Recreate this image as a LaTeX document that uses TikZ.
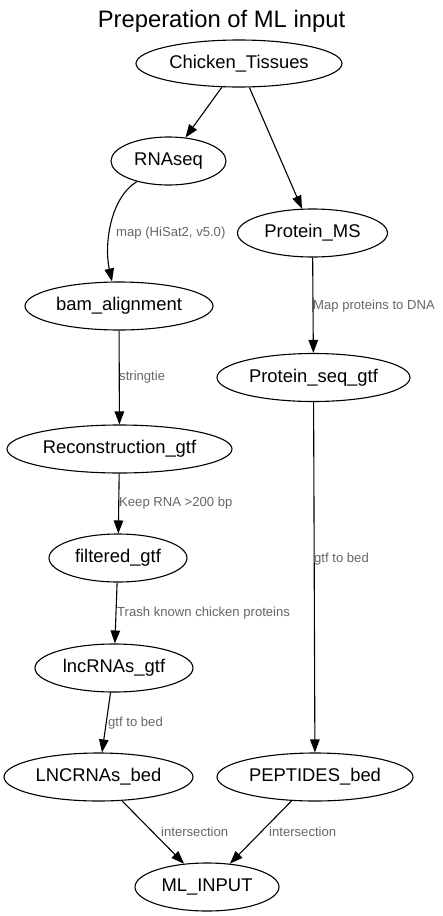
\documentclass[tikz,border=0pt]{standalone}
\usepackage{fontspec}
\setmainfont{Liberation Sans}
\usetikzlibrary{shapes.geometric,arrows.meta}
\definecolor{labelgray}{HTML}{666666}
\tikzset{
  nd/.style={draw, ellipse, line width=1.1pt, inner sep=0pt, font=\fontsize{18.4}{20}\selectfont},
  edge/.style={draw, line width=1.1pt, -{Triangle[length=13pt,width=9.5pt]}},
  elabel/.style={anchor=west, inner sep=0pt, text=labelgray, font=\fontsize{13.1}{15}\selectfont},
}
\begin{document}
\begin{tikzpicture}[x=1pt,y=-1pt]
\useasboundingbox (0,0) rectangle (443,916);
\node[inner sep=0pt, font=\fontsize{23.8}{26}\selectfont] (title) at (221.5,21) {Preperation of ML input};

\node[nd, minimum width=206pt, minimum height=47pt] (ct) at (239,63.5) {Chicken\_Tissues};
\node[nd, minimum width=115pt, minimum height=48pt] (rna) at (168.5,161) {RNAseq};
\node[nd, minimum width=150pt, minimum height=48pt] (pms) at (312.5,233) {Protein\_MS};
\node[nd, minimum width=188pt, minimum height=48pt] (bam) at (119,306) {bam\_alignment};
\node[nd, minimum width=193pt, minimum height=48pt] (psg) at (313.5,377.5) {Protein\_seq\_gtf};
\node[nd, minimum width=225pt, minimum height=48pt] (rec) at (119.5,449) {Reconstruction\_gtf};
\node[nd, minimum width=138pt, minimum height=48pt] (fil) at (118,558) {filtered\_gtf};
\node[nd, minimum width=158pt, minimum height=48pt] (lnc) at (114,668) {lncRNAs\_gtf};
\node[nd, minimum width=189pt, minimum height=48pt] (lbed) at (98.5,777) {LNCRNAs\_bed};
\node[nd, minimum width=196pt, minimum height=48pt] (pbed) at (315,777) {PEPTIDES\_bed};
\node[nd, minimum width=144pt, minimum height=48pt] (ml) at (207,887) {ML\_INPUT};

\draw[edge] (ct) -- (rna);
\draw[edge] (ct) -- (pms);
\draw[edge] (rna.213.7) .. controls (110,198) and (104,245) .. (bam.106);
\draw[edge] (bam) -- (rec);
\draw[edge] (pms) -- (psg);
\draw[edge] (rec) -- (fil);
\draw[edge] (fil) -- (lnc);
\draw[edge] (lnc) -- (lbed);
\draw[edge] (psg) -- (pbed);
\draw[edge] (lbed) -- (ml);
\draw[edge] (pbed) -- (ml);

\node[elabel] (l1) at (116,233) {map (HiSat2, v5.0)};
\node[elabel] (l2) at (119,377) {stringtie};
\node[elabel] (l3) at (313,306) {Map proteins to DNA};
\node[elabel] (l4) at (119,503) {Keep RNA >200 bp};
\node[elabel] (l5) at (117,613) {Trash known chicken proteins};
\node[elabel] (l6) at (108,723) {gtf to bed};
\node[elabel] (l7) at (314,559) {gtf to bed};
\node[elabel] (l8) at (161,832) {intersection};
\node[elabel] (l9) at (269,832) {intersection};
\end{tikzpicture}
\end{document}
